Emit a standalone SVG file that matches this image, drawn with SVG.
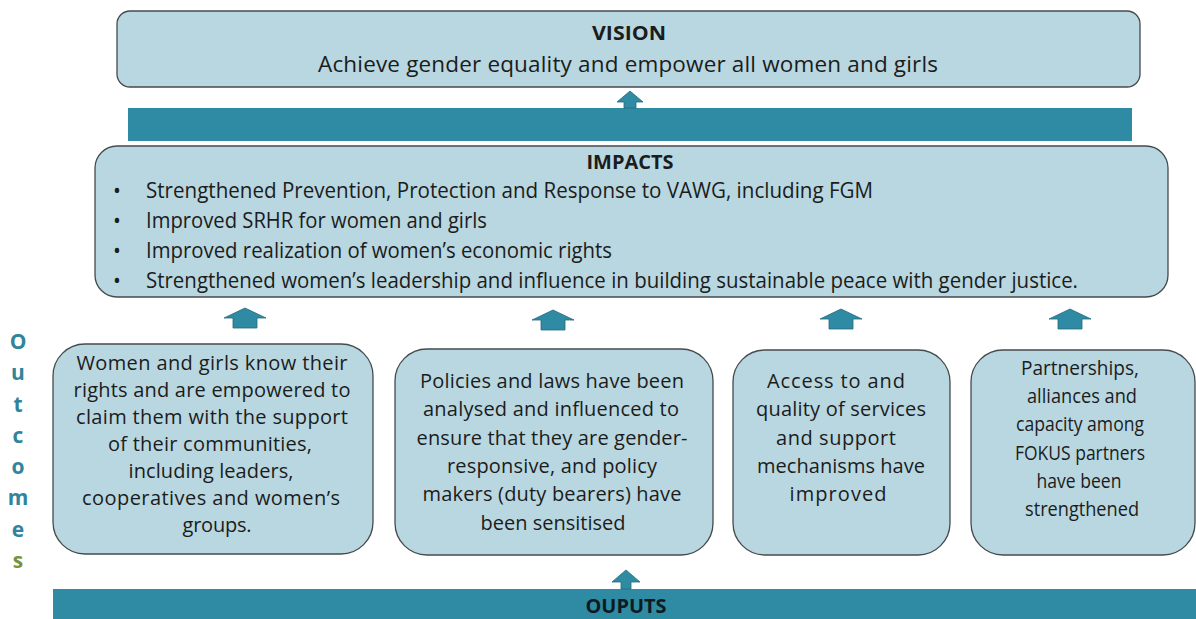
<svg xmlns="http://www.w3.org/2000/svg" width="1196" height="619" viewBox="0 0 1196 619">
  <style>
    .box { fill: #b8d7e0; stroke: #454a4d; stroke-width: 1.3; }
    .bar { fill: #2f8aa3; }
    .arrow { fill: #2f8aa3; stroke: #25697c; stroke-width: 0.8; stroke-linejoin: miter; }
    .t { font-family: "Open Sans", "Liberation Sans", sans-serif; fill: #1c1c1c; }
    .title { font-weight: bold; font-size: 20px; text-anchor: middle; }
    .vision { font-size: 22.5px; text-anchor: middle; }
    .imp { font-size: 21px; }
    .out { font-size: 20px; text-anchor: middle; }
    .side { font-family: "Open Sans", "Liberation Sans", sans-serif; font-weight: bold; font-size: 21px; text-anchor: middle; fill: #31849b; }
  </style>

  <rect width="1196" height="619" fill="#ffffff"/>

  <!-- Vision -->
  <g id="vision">
    <rect class="box" x="117" y="11" width="1023" height="76" rx="13"/>
    <text class="t title" x="629" y="40" textLength="74" lengthAdjust="spacingAndGlyphs">VISION</text>
    <text class="t vision" x="628" y="72" textLength="620">Achieve gender equality and empower all women and girls</text>
  </g>

  <!-- Band under the vision -->
  <g id="impact-band">
    <rect class="bar" x="128" y="108" width="1004" height="33"/>
  </g>

  <!-- Impacts -->
  <g id="impacts">
    <rect class="box" x="95" y="146" width="1073" height="151" rx="22"/>
    <text class="t title" x="630" y="169" textLength="87" lengthAdjust="spacingAndGlyphs">IMPACTS</text>
    <g class="t imp">
      <text x="113" y="198">•</text>
      <text x="146" y="198" textLength="727" lengthAdjust="spacingAndGlyphs">Strengthened Prevention, Protection and Response to VAWG, including FGM</text>
      <text x="113" y="228">•</text>
      <text x="146" y="228" textLength="341" lengthAdjust="spacingAndGlyphs">Improved SRHR for women and girls</text>
      <text x="113" y="258">•</text>
      <text x="146" y="258" textLength="466" lengthAdjust="spacingAndGlyphs">Improved realization of women’s economic rights</text>
      <text x="113" y="288">•</text>
      <text x="146" y="288" textLength="932" lengthAdjust="spacingAndGlyphs">Strengthened women’s leadership and influence in building sustainable peace with gender justice.</text>
    </g>
  </g>

  <!-- Outcomes label -->
  <g id="outcomes-label">
    <text class="side" x="18" y="349">O</text>
    <text class="side" x="18" y="380">u</text>
    <text class="side" x="18" y="412">t</text>
    <text class="side" x="18" y="443">c</text>
    <text class="side" x="18" y="474">o</text>
    <text class="side" x="18" y="505">m</text>
    <text class="side" x="18" y="537">e</text>
    <text class="side" x="18" y="568" style="fill:#76923c">s</text>
  </g>

  <!-- Outcome 1 -->
  <g id="outcome-1">
    <rect class="box" x="53" y="344" width="320" height="210" rx="32"/>
    <g class="t out">
      <text x="212" y="370" textLength="271">Women and girls know their</text>
      <text x="212" y="397" textLength="277">rights and are empowered to</text>
      <text x="212" y="424" textLength="272">claim them with the support</text>
      <text x="210" y="451" textLength="204">of their communities,</text>
      <text x="211" y="478" textLength="165">including leaders,</text>
      <text x="211" y="505" textLength="258">cooperatives and women’s</text>
      <text x="217" y="532" textLength="69">groups.</text>
    </g>
  </g>

  <!-- Outcome 2 -->
  <g id="outcome-2">
    <rect class="box" x="395" y="349" width="318" height="206" rx="32"/>
    <g class="t out">
      <text x="552" y="388" textLength="264">Policies and laws have been</text>
      <text x="551" y="416" textLength="256">analysed and influenced to</text>
      <text x="552" y="445" textLength="271">ensure that they are gender-</text>
      <text x="552" y="473" textLength="210">responsive, and policy</text>
      <text x="552" y="501" textLength="259">makers (duty bearers) have</text>
      <text x="553" y="530" textLength="145">been sensitised</text>
    </g>
  </g>

  <!-- Outcome 3 -->
  <g id="outcome-3">
    <rect class="box" x="733" y="350" width="217" height="205" rx="32"/>
    <g class="t out">
      <text x="836" y="388" textLength="138">Access to and</text>
      <text x="841" y="416" textLength="170">quality of services</text>
      <text x="836" y="445" textLength="120">and support</text>
      <text x="841" y="473" textLength="168">mechanisms have</text>
      <text x="838" y="501" textLength="97">improved</text>
    </g>
  </g>

  <!-- Outcome 4 -->
  <g id="outcome-4">
    <rect class="box" x="971" y="350" width="224" height="205" rx="32"/>
    <g class="t out">
      <text x="1080" y="375" textLength="118" lengthAdjust="spacingAndGlyphs">Partnerships,</text>
      <text x="1082" y="403" textLength="110" lengthAdjust="spacingAndGlyphs">alliances and</text>
      <text x="1080" y="431" textLength="128" lengthAdjust="spacingAndGlyphs">capacity among</text>
      <text x="1080" y="460" textLength="130" lengthAdjust="spacingAndGlyphs">FOKUS partners</text>
      <text x="1079" y="488" textLength="85" lengthAdjust="spacingAndGlyphs">have been</text>
      <text x="1082" y="516" textLength="114" lengthAdjust="spacingAndGlyphs">strengthened</text>
    </g>
  </g>

  <!-- Outputs -->
  <g id="outputs">
    <rect class="bar" x="53" y="589" width="1143" height="30"/>
    <text class="t title" x="626" y="613" textLength="81" lengthAdjust="spacingAndGlyphs" style="fill:#0d1a1f">OUPUTS</text>
  </g>

  <!-- Connectors: upward block arrows -->
  <g id="connectors">
    <polygon class="arrow" points="630,91 643,102 636,102 636,108 624,108 624,102 617,102"/>
    <polygon class="arrow" points="245,308 266,318 257,318 257,328 233,328 233,318 224,318"/>
    <polygon class="arrow" points="553,310 574,320 565,320 565,330 541,330 541,320 532,320"/>
    <polygon class="arrow" points="841,309 862,319 853,319 853,329 829,329 829,319 820,319"/>
    <polygon class="arrow" points="1070,309 1091,319 1082,319 1082,329 1058,329 1058,319 1049,319"/>
    <polygon class="arrow" points="626,570 640,582 631,582 631,589 621,589 621,582 612,582"/>
  </g>
</svg>
